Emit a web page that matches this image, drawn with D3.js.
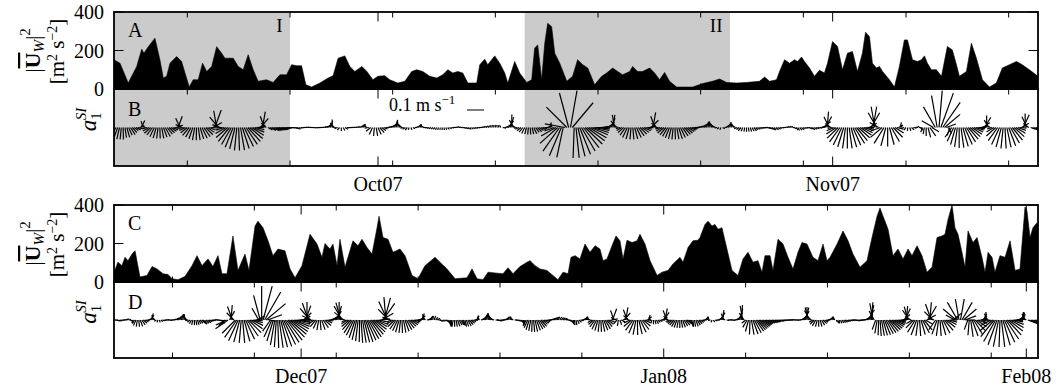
<!DOCTYPE html>
<html><head><meta charset="utf-8">
<script src="https://cdn.jsdelivr.net/npm/d3@7"></script>
<style>
body{margin:0;background:#fff;}
text{font-family:"Liberation Serif","Times New Roman",serif;fill:#000;}
</style></head><body>
<svg id="chart" width="1056" height="392"></svg>
<script>
// ---------------- data (time in yearday 2007, day 0 = 1 Jan 2007) ----------------
// wind stress magnitude |U_W|^2 [m^2 s^-2]
const windDayTop = [255.00,255.41,255.97,256.55,256.89,257.04,257.34,257.79,258.13,258.36,
258.59,258.82,259.27,259.61,259.84,260.13,260.40,260.74,261.04,261.32,
261.66,262.00,262.34,262.56,263.13,263.47,263.81,264.15,264.49,264.83,
265.40,265.85,266.31,266.77,267.11,267.45,267.79,268.08,268.47,269.04,
269.60,269.94,270.28,270.74,271.08,271.42,271.90,272.24,272.65,272.99,
273.46,273.80,274.35,274.83,275.30,275.64,276.05,276.53,277.01,277.42,
277.76,278.10,278.44,278.78,279.12,279.73,279.94,280.28,280.48,280.96,
281.30,281.64,281.85,282.32,282.66,283.14,283.48,283.68,283.89,284.16,
284.37,284.57,284.84,285.05,285.39,285.87,286.27,286.61,286.96,287.30,
287.77,288.25,288.59,289.00,289.34,289.68,290.16,290.36,290.70,291.04,
291.52,291.86,292.20,292.54,292.88,293.36,294.45,295.13,295.81,296.29,
296.77,297.45,298.13,299.01,299.36,299.70,300.17,300.38,300.72,301.06,
301.40,301.60,301.88,302.08,302.42,302.76,303.10,303.44,303.65,303.99,
304.33,304.67,305.01,305.35,305.69,306.03,306.24,306.51,306.71,306.99,
307.19,307.40,307.87,308.21,308.55,308.89,309.10,309.44,309.78,310.05,
310.26,310.46,310.73,311.07,311.42,311.82,312.16,312.44,312.64,313.12,
313.46,313.80,314.21,314.69,315.16,315.57,316.05,316.53,316.93,317.41,
318.00];
const windTop = [152,134,31,117,207,186,220,264,152,57,
66,134,169,143,83,10,48,48,134,91,
117,220,186,160,160,117,100,178,100,40,
48,34,74,74,126,121,121,22,10,31,
57,69,160,172,117,91,117,91,48,66,
69,48,31,40,91,100,91,66,57,74,
100,83,91,83,31,31,126,155,126,172,
134,83,31,143,83,34,48,212,229,48,
238,341,324,186,134,40,66,152,126,109,
22,66,83,109,91,74,91,117,91,91,
109,83,48,86,40,10,10,28,40,52,
34,31,34,40,62,40,48,91,152,134,
152,143,166,143,109,66,97,83,134,247,
221,100,186,195,91,186,295,272,134,109,
117,91,48,10,117,255,255,152,143,152,
172,134,100,100,66,221,203,126,66,91,
238,160,48,10,31,109,126,143,126,100,
66];
const windDayBot = [318.00,318.34,318.68,318.94,319.20,319.54,319.80,320.22,320.82,321.25,
321.68,322.19,322.62,322.96,323.47,324.07,324.67,325.10,325.52,326.04,
326.46,326.89,327.23,327.66,328.17,328.60,329.20,329.54,330.06,330.31,
330.74,331.17,331.59,332.02,332.62,333.05,333.48,334.07,334.76,335.36,
335.78,336.04,336.47,336.72,337.07,337.32,337.75,338.43,338.86,339.20,
339.63,340.06,340.49,340.66,341.00,341.43,341.85,342.45,342.88,343.48,
343.99,344.59,345.45,345.87,346.47,347.16,348.18,348.61,349.04,349.55,
349.98,350.75,351.26,351.69,352.11,352.71,353.31,353.57,354.00,354.42,
355.02,355.53,355.96,356.39,356.82,357.07,357.42,357.84,358.27,358.70,
359.13,359.55,359.81,360.15,360.58,360.92,361.26,361.52,361.86,362.29,
362.72,362.97,363.40,363.83,364.43,364.85,365.37,365.79,366.39,366.65,
367.08,367.50,367.93,368.10,368.53,368.79,369.13,369.38,369.64,369.98,
370.24,370.84,371.35,371.78,372.21,372.63,373.06,373.40,373.66,374.09,
374.34,374.77,375.20,375.63,376.05,376.48,376.82,377.25,377.76,378.19,
378.62,378.96,379.22,379.82,380.33,380.76,381.18,381.78,382.38,382.81,
383.24,383.49,383.75,384.18,384.60,385.03,385.46,385.89,386.23,386.66,
387.08,387.51,387.94,388.37,388.79,389.05,389.31,389.65,389.90,390.16,
390.50,390.76,391.02,391.44,391.79,392.21,392.47,392.73,393.07,393.32,
393.75,394.18,394.61,395.04,395.46,395.89,396.06,396.32,396.57,396.92,
397.00];
const windBot = [51,103,85,128,111,145,162,26,34,80,
68,43,39,17,12,29,85,137,85,120,
80,137,43,43,239,60,145,60,291,316,
282,214,137,171,162,68,22,85,248,197,
128,200,171,197,85,222,77,214,188,222,
179,145,282,342,231,222,154,171,137,34,
17,85,128,103,68,17,22,68,17,12,
51,46,43,74,43,80,103,111,85,68,
60,34,12,51,43,128,137,120,197,154,
188,171,111,120,188,239,214,120,217,205,
214,248,197,111,34,51,60,94,128,103,
179,214,217,231,299,316,291,299,274,282,
214,60,34,120,154,103,111,51,137,137,
60,222,197,128,68,154,205,197,128,111,
197,111,128,197,265,214,145,77,111,231,
342,385,342,274,137,171,120,171,137,188,
137,51,77,231,239,248,325,400,282,248,
154,77,265,205,231,128,51,154,128,51,
137,128,214,60,68,390,368,231,282,308,
300];

// slab inertial current a1^SI, 3-hourly sticks: direction toward (deg clockwise from north), speed (cm/s)
const stickStep = 0.125;
const stickStartTop = 255;
const stickDirTop = [
215,208,200,193,186,179,172,164,
156,147,138,128,118,105,70,25,
-20,-60,255,240,228,217,206,196,
187,178,169,160,151,142,133,124,
114,100,70,20,-25,-65,260,245,
232,220,209,199,190,181,172,163,
154,145,135,125,112,95,60,20,
-10,-40,-70,265,252,240,229,219,
210,202,194,186,178,170,162,154,
146,138,130,122,113,103,90,70,
40,10,-20,-50,120,115,112,110,
108,106,105,104,103,100,98,95,
92,95,100,110,120,115,100,90,
85,80,85,90,95,100,100,95,
90,85,80,70,60,40,20,0,
-40,-80,250,220,180,150,120,100,
95,90,85,80,75,70,60,40,
20,0,300,260,230,205,185,170,
155,140,125,110,95,80,70,60,
45,30,10,-10,-30,-50,260,240,
220,200,160,120,90,60,40,20,
-20,-60,270,260,250,240,230,220,
210,200,190,180,170,160,140,120,
100,90,80,70,80,90,100,110,
120,130,140,130,120,110,100,90,
80,70,60,50,40,30,20,10,
0,-10,-20,-30,100,80,60,40,
20,0,-30,-60,260,245,230,218,
206,195,185,175,165,155,145,135,
125,115,105,95,80,50,10,-30,
250,240,228,215,203,192,280,315,
345,10,40,182,174,166,158,150,
142,134,127,120,113,107,101,96,
92,88,85,82,75,60,45,25,
10,-10,-40,-70,255,240,228,216,
205,195,185,175,165,155,145,135,
125,115,105,92,75,45,10,-20,
-50,265,252,240,229,219,210,202,
194,186,178,170,162,154,146,138,
130,122,114,106,98,90,80,70,
60,50,40,25,10,-5,-20,-40,
-60,260,230,200,120,80,50,30,
10,-10,-30,-60,250,235,220,205,
190,180,170,160,150,140,130,120,
110,100,95,90,100,110,120,130,
140,130,120,110,100,90,80,70,
60,60,90,120,140,150,140,130,
120,110,100,110,120,130,120,110,
100,85,70,50,30,5,-25,-55,
260,248,237,226,216,206,197,188,
180,172,164,156,148,140,132,124,
116,108,100,90,60,30,10,-10,
-30,-60,250,230,212,195,180,165,
150,136,122,105,60,10,-40,250,
220,190,160,130,100,80,60,100,
140,200,190,180,165,145,120,300,
330,350,5,20,35,50,70,150,
200,215,205,196,188,180,172,164,
156,148,140,132,124,116,108,100,
90,75,55,30,0,-30,-60,255,
240,228,216,205,195,186,177,168,
159,150,141,132,122,110,95,60,
25,0,-25,-55,110,115,112,110,
108];
const stickSpdTop = [
6,7,7,7,7,7,6,6,
5,5,4,3,3,2.5,3,4.5,
4,2.5,3,4,5,5.5,6,6.5,
6.5,6.5,6.5,6,6,5,4.5,4,
3.5,3,4,7,6,4,3,4,
5,6,6.5,7,7.5,7.5,7.5,7,
7,6.5,6,5,4,3.5,6,11,
10,8,5,3,5,7,9,10.5,
11.5,12.5,13,13.5,13.5,13.5,13,12.5,
12,11,10,8.5,7,5.5,4,4,
7,9.5,7,4,3,4,5,5,
5,5,5,4.5,4,3.5,3,2.5,
2,2,2,2,2,1.5,1.5,1.5,
1.5,1.5,1.5,1.5,1.5,1.5,1.5,1.5,
1.5,1.5,2,2,2.5,3,4,4.7,
3.5,2.5,2,2,2,2,2,1.5,
1.5,1.5,1.5,1.5,1.5,1.5,1.5,2,
2,2,2,2.5,3.5,4.5,5,5,
4.5,4,3,2.5,2,2,2,2.5,
3,4,4.5,4,3,2.5,2,2,
2,1.5,1.5,1.5,1.5,1.5,2,2,
2,1.5,1.5,1.5,1.5,1.5,1.5,1.5,
1.5,1.5,1.5,1.5,1.5,1.5,1.5,1.5,
1.5,1.5,1.5,1.5,1.5,1.5,1.5,1.5,
1.5,1.5,1.5,1.5,1.5,1.5,1.5,1.5,
1.5,1.5,1.5,1.5,1.5,1.5,1.5,1.5,
1.5,1.5,1.5,1.5,2,2.5,3.5,5,
6.5,7.6,5,3,2,2.5,3,3.5,
4,4,4.1,4.1,4,4,3.5,3.5,
3,3,2.5,2.5,2.5,2.5,3,2.5,
6,10,14,17,18,18,12,17,
21,22,19,18,18,17.5,17,16,
15,14,13,12,11,10,9,8,
7,6,5,4,3.5,3.5,4.5,6,
7.5,7.5,5,3,2.5,3.5,4.5,5.5,
6.5,7,7,7,7,6.5,6,5.5,
5,4.5,4,3.5,4,6,9,7,
4,2,3,4,5,5.5,6,6.5,
7,7,7,7,7,6.5,6,5.5,
5,4.5,4,3.5,3,2.5,2,2,
2,2.5,3,3.5,3.5,3.5,3,2.5,
2,1.5,1.5,1.5,1.5,1.5,2,2.5,
3,3,2.5,2,2,2,2.5,2.5,
2.5,2.5,2.5,2.5,2.5,2.5,2,2,
2,2,2,2,2,2,2,2,
2,2,2,1.5,1.5,1.5,1.5,1.5,
1.5,1.5,1.5,1.5,2,2,2,2,
1.5,1.5,1.5,2,2,2,2,2,
2.5,3,4,5.5,7.5,9.4,7,4,
3,5,7,9,10.5,11.5,12,12.4,
12.4,12.4,12,11.5,11,10,9,8,
7,6,5,4,5,10,12.4,12.4,
10,6,6,9,11,11.2,11.2,10.5,
9.5,8,6,4,3,3,2,2,
2,2,2,2,2,1.5,1.5,1.5,
2,3,4,5,6,6,5,8,
14,19,21.8,21.5,18,12,6,4,
5,7,9,10.5,11.5,12,12,11.5,
11,10,9,8,7,6,5,4.5,
4,4,5,7,7,5,3,3,
5,7.5,9.5,11,12,12.4,12.4,12,
11.5,10.5,9.5,8,6.5,5,4,5,
8.2,8.2,7,4,3,4,4,3.5,
3];
const stickStartBot = 318;
const stickDirBot = [
90,100,110,120,110,100,90,80,
70,60,80,110,150,190,220,205,
190,175,160,145,130,115,100,80,
60,35,10,-20,-50,240,200,160,
130,110,100,90,80,90,100,90,
80,70,60,50,40,30,20,10,
0,-20,-50,260,230,210,195,180,
170,160,150,140,130,140,150,140,
130,120,110,100,90,80,90,100,
110,120,150,200,230,245,235,30,
5,-20,-45,225,215,205,195,185,
175,165,155,145,135,125,115,105,
95,80,60,330,345,0,15,30,
50,70,100,215,205,197,190,184,
178,172,166,160,154,148,142,136,
130,124,118,112,106,100,95,90,
80,65,45,20,0,-20,-40,-65,
250,235,220,205,190,175,160,145,
130,115,100,85,70,60,50,40,
30,15,0,-15,-30,-50,-75,250,
240,230,221,213,206,199,193,187,
181,176,171,166,161,156,151,146,
140,134,127,120,112,102,85,60,
35,15,-5,-25,-45,-70,250,238,
226,215,205,196,187,178,169,160,
151,142,133,124,115,106,97,88,
78,65,45,15,-15,-45,80,60,
40,20,10,20,40,60,90,120,
130,120,110,120,140,160,175,185,
190,180,170,160,150,145,150,160,
165,160,150,140,130,115,95,70,
30,0,-40,70,50,35,20,10,
0,-15,-30,-50,-70,90,100,110,
100,90,80,70,50,30,10,0,
-20,-50,90,100,110,120,130,150,
170,190,210,205,198,190,182,175,
168,160,152,145,138,130,120,110,
100,90,80,70,60,50,40,30,
20,30,40,50,60,70,90,110,
130,150,165,175,170,155,130,100,
80,60,40,20,0,-40,-80,240,
228,217,206,196,186,177,168,159,
150,140,128,112,80,20,-20,-60,
220,190,160,120,70,40,10,-20,
-50,245,230,216,203,191,179,167,
155,143,130,115,95,50,10,-30,
200,180,165,150,135,115,90,60,
35,10,-20,-50,250,240,230,220,
210,200,190,180,170,160,150,140,
130,135,150,165,175,170,160,150,
140,125,110,90,60,30,10,-20,
260,200,150,110,90,70,50,30,
10,-20,-60,100,90,80,90,100,
90,70,50,30,15,5,-10,-35,
230,210,195,182,170,160,152,145,
140,136,132,128,125,122,120,118,
116,114,112,110,108,106,104,102,
100,98,96,94,92,90,88,85,
80,85,90,95,90,75,60,45,
30,15,0,-15,-30,-50,240,225,
210,195,180,165,150,135,120,100,
80,60,40,20,0,-30,150,160,
170,160,150,140,130,120,110,100,
95,90,95,100,105,100,95,90,
85,75,60,45,30,15,5,-10,
-30,200,190,182,176,170,164,158,
152,146,140,134,128,122,116,110,
104,98,92,80,50,25,5,-15,
-35,-60,240,225,212,200,188,176,
164,152,140,120,60,30,5,-20,
-45,-70,215,200,188,176,164,152,
140,128,116,104,90,70,50,-60,
-50,-30,-10,10,30,50,70,90,
200,185,172,160,148,136,124,112,
95,75,50,25,5,-20,-50,255,
242,230,219,209,200,191,182,173,
164,155,146,137,128,119,110,101,
92,83,70,55,40,20,0,-25,
-55,110,115,120,120,115,110,105,
100];
const stickSpdBot = [
1.5,1.5,1.5,1.5,1.5,1.5,1.5,1.5,
1.5,1.5,1.5,1.5,2,2,2.5,3.5,
4,4,4,3.5,3,2.5,2,2,
2.5,3.5,4,3,2,1.5,1.5,1.5,
1.5,1.5,1.5,1.5,1.5,1.5,1.5,1.5,
1.5,1.5,2,2,2.5,3,3.5,3.5,
3.5,3,2.5,2,2,2.5,3,3,
3,3,2.5,2.5,3,3,3,2.5,
2.5,2,2,2,1.5,1.5,1.5,1.5,
1.5,2,2.5,3,5,7,9,6,
8.8,8.5,6,11,12.5,13.5,13.5,13.5,
13.5,13,12.5,11.5,10.5,9,7.5,6,
5,4.5,5,8,15,20,20.6,19,
15,9,4,8,11,13,15,16,
16.5,16.5,16.5,16.5,16,15.5,15,14,
13,12,11,10,9,8,7,6,
5,5,6,9,10.6,10.6,9,6,
3,4,5,5.5,6,6,6,5.5,
5,4,3.5,3,3,3,3.5,4.5,
6,8.5,10.6,10.6,9.5,7,4,3,
4.5,6,7.5,9,10,11,12,12.5,
13,13.5,13.5,13.5,13.5,13,12.5,12,
11,10,9,8,7,6,6,8,
12,13.5,13.5,12,9,5,3,4.5,
5.5,6.5,7,7.5,7.6,7.6,7.5,7,
6.5,6,5.5,5,4.5,4,3.5,3,
3,3,3.5,4,3.5,2.5,2,2,
2.5,2.5,2.5,2.5,2,2,1.5,1.5,
1.5,1.5,1.5,2,2.5,3,3.5,4,
4,4,4,4,3.5,3.5,3.5,3.5,
4,4,4,3.5,3,2.5,2.5,2.5,
3,2.5,2,2,3,3.5,4,4,
4,3.5,3,2.5,2,2,2,2,
2,2,2,2,2,2,2,2,
2,1.5,1.5,1.5,1.5,1.5,2,2,
2.5,3,4,5,6,6.5,7,7,
7,6.5,6,5.5,5,4,3.5,3,
2.5,2,2,2,2,2,2,2,
2,2,2,2,2,1.5,1.5,1.5,
2,2.5,3,3,3,2.5,2,2,
2,2,2,2,2,2,2,3,
4,5,6,6.5,7,7,7,6.5,
6,5,4,3.5,4,7,6,3,
3,3.5,3,2.5,3,5.5,7.6,6.5,
4,4,6,7.5,8.5,8.8,8.8,8.5,
8,7,5.5,4,3,3,3,2,
2,2.5,2.5,2.5,2,2,2.5,3.5,
5.5,7,6,3.5,2.5,3,3.5,4,
4.5,4.7,4.7,4.7,4.5,4.5,4,4,
3.5,3.5,4,4,4,4,4,3.5,
3,2.5,2,2,2,2,2,2,
1.5,1.5,1.5,1.5,2,2.5,3.5,5,
5.9,4,2,1.5,1.5,1.5,1.5,1.5,
1.5,2,3,5,7,8.8,8.5,5,
3,5,7,8.5,8.8,8.8,8.5,8,
7.5,7,6.5,6,5.5,5,4.5,4,
4,4,4,3.5,3.5,3,3,3,
2.5,2.5,2,2,2,2,2,1.5,
1.5,1.5,1.5,1.5,1.5,2,2.5,4,
6,7.5,7.6,7.6,6.5,4,2.5,3.5,
4,4,4,4,3.5,3,2.5,2,
2,2,2,2,2,1.5,1.5,2,
2,2,2,2,2,2,2,2,
2,2,2,2,2,2,2,2,
2,2.5,3.5,5,7,9,10.5,10,
6,6,8,9,9.4,9.4,9.4,9.4,
9.2,9,8.7,8.3,7.8,7.2,6.5,5.8,
5,4.2,3.5,3.5,5,7.5,8.2,8.2,
7,4,4,6.5,8.5,9.4,9.4,9.4,
9,8.5,7.5,5,6,9.5,10.5,10,
7,4,7,9,9.4,9.4,9.2,8.8,
8,7,6,5,4,4,6,6,
10,12,12.5,12.5,12,10,7,5,
6,9,10,10,9.5,8.5,7,5.5,
4,3.5,3.5,4,4.7,4,3,4,
7,10,12.5,14.5,15.5,15.9,15.9,15.9,
15.5,14.5,13.5,12,10.5,9,7.5,6,
5,4.5,4.5,4.5,4.5,4.7,4.7,4,
3,3,4,4.5,4.5,4,3.5,3,
3];

const shadedPeriods = [[255, 267], [283, 297]];
const shadedLabels = ["I", "II"];
const windTicks = [0, 200, 400];
const monthDaysTop = [273, 304], monthLabelsTop = ["Oct07", "Nov07"];
const monthDaysBot = [334, 365, 396], monthLabelsBot = ["Dec07", "Jan08", "Feb08"];
const weekDaysTop = d3.range(260, 318, 7);
const weekDaysBot = d3.range(323, 397, 7);
const keySpeed = 10; // cm/s, shown as 0.1 m s^-1

// ---------------- drawing ----------------
const svg = d3.select("#chart");
const X0 = 114, X1 = 1038;
const PX_PER_CMS = 1.7;
const defs = svg.append("defs");

function clip(id, box) {
  defs.append("clipPath").attr("id", id).append("rect")
    .attr("x", X0).attr("y", box[0]).attr("width", X1 - X0).attr("height", box[1] - box[0]);
}

function drawPair(o) {
  const x = d3.scaleLinear().domain(o.days).range([X0, X1]);
  const yW = d3.scaleLinear().domain([0, 400]).range([o.windBox[1], o.windBox[0]]);
  const half = (o.stickBox[1] - o.stickBox[0]) / 2 / PX_PER_CMS;
  const yS = d3.scaleLinear().domain([-half, half]).range([o.stickBox[1], o.stickBox[0]]);
  clip(o.id + "W", o.windBox);
  clip(o.id + "S", o.stickBox);

  // shaded periods
  (o.shade || []).forEach((p, i) => {
    svg.append("rect").attr("x", x(p[0])).attr("y", o.windBox[0])
      .attr("width", x(p[1]) - x(p[0])).attr("height", o.stickBox[1] - o.windBox[0])
      .attr("fill", "#cbcbcb");
    svg.append("text").attr("x", x(p[1]) - 7.5).attr("y", o.windBox[0] + 20)
      .attr("text-anchor", "end").attr("font-size", 19).text(o.shadeLabels[i]);
  });

  // wind stress area
  const wd = o.windDays.map((t, i) => ({t, v: o.windVals[i]}));
  svg.append("path").datum(wd).attr("clip-path", `url(#${o.id}W)`)
    .attr("fill", "#000").attr("stroke", "#000").attr("stroke-width", 0.6)
    .attr("d", d3.area().x(d => x(d.t)).y0(yW(0)).y1(d => yW(d.v)));

  // current sticks
  const st = o.dirs.map((dir, i) => {
    const r = dir * Math.PI / 180, s = o.spds[i];
    return {t: o.start + i * stickStep, u: s * Math.sin(r), v: s * Math.cos(r)};
  });
  svg.append("g").attr("clip-path", `url(#${o.id}S)`)
    .selectAll("line").data(st).join("line")
    .attr("x1", d => x(d.t)).attr("y1", yS(0))
    .attr("x2", d => x(d.t) + d.u * PX_PER_CMS).attr("y2", d => yS(d.v))
    .attr("stroke", "#000").attr("stroke-width", 1.2).attr("stroke-linecap", "butt");

  // frames and ticks
  const tg = svg.append("g").attr("stroke", "#000").attr("stroke-width", 1);
  [o.windBox, o.stickBox].forEach(b => {
    o.weeks.forEach(t => {
      if (o.months.includes(t)) return;
      tg.append("line").attr("x1", x(t)).attr("x2", x(t)).attr("y1", b[0]).attr("y2", b[0] + 5.5);
      tg.append("line").attr("x1", x(t)).attr("x2", x(t)).attr("y1", b[1]).attr("y2", b[1] - 5.5);
    });
    o.months.forEach(t => {
      tg.append("line").attr("x1", x(t)).attr("x2", x(t)).attr("y1", b[0]).attr("y2", b[0] + 9.5);
      tg.append("line").attr("x1", x(t)).attr("x2", x(t)).attr("y1", b[1]).attr("y2", b[1] - 9.5);
    });
    svg.append("rect").attr("x", X0).attr("y", b[0]).attr("width", X1 - X0).attr("height", b[1] - b[0])
      .attr("fill", "none").attr("stroke", "#000").attr("stroke-width", 1.8);
  });
  windTicks.forEach(v => {
    tg.append("line").attr("x1", X0).attr("x2", X0 + 9.5).attr("y1", yW(v)).attr("y2", yW(v));
    tg.append("line").attr("x1", X1).attr("x2", X1 - 9.5).attr("y1", yW(v)).attr("y2", yW(v));
    svg.append("text").attr("x", X0 - 10).attr("y", yW(v)).attr("dy", "0.35em")
      .attr("text-anchor", "end").attr("font-size", 20).text(v);
  });
  o.months.forEach((t, i) => {
    svg.append("text").attr("x", x(t)).attr("y", o.stickBox[1] + 25)
      .attr("text-anchor", "middle").attr("font-size", 20).text(o.monthLabels[i]);
  });

  // panel letters
  svg.append("text").attr("x", 128).attr("y", o.windBox[0] + 25).attr("font-size", 20).text(o.letters[0]);
  svg.append("text").attr("x", 128).attr("y", o.stickBox[0] + 27).attr("font-size", 20).text(o.letters[1]);

  // y labels
  const cy = (o.windBox[0] + o.windBox[1]) / 2;
  const yl = svg.append("text").attr("font-size", 22).attr("text-anchor", "middle")
    .attr("transform", `translate(40,${cy}) rotate(-90)`);
  yl.append("tspan").text("|");
  yl.append("tspan").attr("font-weight", "bold").attr("text-decoration", "overline").text("U");
  yl.append("tspan").attr("font-style", "italic").attr("font-size", 15).attr("dy", 4).text("W");
  yl.append("tspan").attr("dy", -4).text("|");
  yl.append("tspan").attr("font-size", 15).attr("dy", -10).text("2");
  const yl2 = svg.append("text").attr("font-size", 21).attr("text-anchor", "middle")
    .attr("transform", `translate(64,${cy + 1}) rotate(-90)`);
  yl2.append("tspan").text("[m");
  yl2.append("tspan").attr("font-size", 14).attr("dy", -7).text("2");
  yl2.append("tspan").attr("dy", 7).text(" s");
  yl2.append("tspan").attr("font-size", 14).attr("dy", -7).text("\u22122");
  yl2.append("tspan").attr("dy", 7).text("]");
  const al = svg.append("text").attr("font-size", 23).attr("text-anchor", "middle")
    .attr("transform", `translate(96,${(o.stickBox[0] + o.stickBox[1]) / 2 - 8}) rotate(-90)`);
  al.append("tspan").attr("font-style", "italic").text("a");
  al.append("tspan").attr("font-size", 15).attr("dy", 5).text("1");
  al.append("tspan").attr("font-style", "italic").attr("font-size", 15).attr("dx", -8).attr("dy", -15).text("SI");
}

drawPair({
  id: "t", days: [255, 318], windBox: [12, 89], stickBox: [89, 166],
  windDays: windDayTop, windVals: windTop,
  start: stickStartTop, dirs: stickDirTop, spds: stickSpdTop,
  shade: shadedPeriods, shadeLabels: shadedLabels,
  weeks: weekDaysTop, months: monthDaysTop, monthLabels: monthLabelsTop, letters: ["A", "B"]
});
drawPair({
  id: "b", days: [318, 397], windBox: [205, 282], stickBox: [282, 358],
  windDays: windDayBot, windVals: windBot,
  start: stickStartBot, dirs: stickDirBot, spds: stickSpdBot,
  weeks: weekDaysBot, months: monthDaysBot, monthLabels: monthLabelsBot, letters: ["C", "D"]
});

// velocity key
const kt = svg.append("text").attr("x", 389).attr("y", 111).attr("font-size", 18);
kt.append("tspan").text("0.1 m s");
kt.append("tspan").attr("font-size", 13).attr("dy", -7).text("\u22121");
svg.append("line").attr("x1", 467).attr("x2", 467 + keySpeed * PX_PER_CMS)
  .attr("y1", 110).attr("y2", 110).attr("stroke", "#000").attr("stroke-width", 1);
</script>
</body></html>
